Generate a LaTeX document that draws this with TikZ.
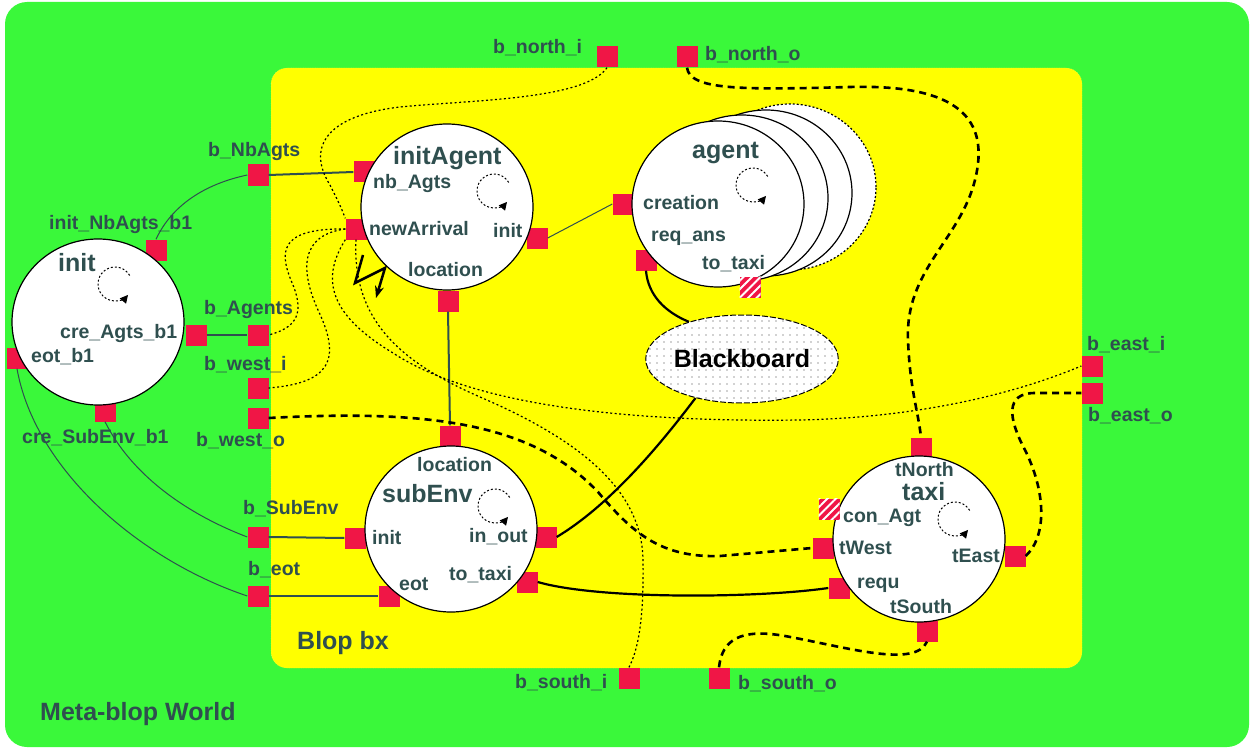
\documentclass[tikz,border=0pt]{standalone}
\usepackage{fontspec}
\setmainfont{Liberation Sans}
\usetikzlibrary{arrows.meta, patterns.meta, shapes.geometric}

\definecolor{world}{RGB}{58,248,58}
\definecolor{blop}{RGB}{255,255,0}
\definecolor{portred}{RGB}{240,22,70}
\definecolor{slate}{RGB}{47,79,79}

\begin{document}
\begin{tikzpicture}[x=1pt, y=-1pt,
  every node/.style={font=\bfseries\fontsize{19.5}{20}\selectfont, text=slate, inner sep=0pt},
  lbl/.style={anchor=west},
  title/.style={anchor=west, font=\bfseries\fontsize{25}{26}\selectfont},
  port/.style={fill=portred, minimum size=21pt},
  hport/.style={port, postaction={pattern={Lines[angle=45, distance=6pt, line width=2pt]}, pattern color=white}},
  actor/.style={ellipse, draw=black, line width=1.2pt, fill=white, minimum width=172pt, minimum height=166pt},
  link/.style={draw=slate, line width=1pt},
  wire/.style={draw=slate, line width=2pt},
  flow/.style={draw=black, line width=2.2pt},
  ddash/.style={draw=black, line width=2.6pt, dash pattern=on 7pt off 5pt},
  ddot/.style={draw=black, line width=1.2pt, dash pattern=on 2pt off 2.5pt},
  selfloop/.style={draw=black, line width=1pt, dash pattern=on 2pt off 2pt, -{Triangle[length=8pt, width=8pt]}}
]
\useasboundingbox (0,0) rectangle (1256,749);

% world and blop
\fill[world, rounded corners=22pt] (5,2) rectangle (1249,747);
\draw[fill=blop, draw={rgb,255:red,210;green,255;blue,140}, dotted, rounded corners=16pt] (271,68) rectangle (1082,668);
\node[title] (world) at (40,714) {Meta-blop World};
\node[title] (blop) at (297,643) {Blop bx};

% ports
\node[port] (bNorthI) at (607,57) {};
\node[port] (bNorthO) at (687,57) {};
\node[port] (bNbAgts) at (258,175) {};
\node[port] (initNb) at (156,250) {};
\node[port] (bAgents) at (258,335) {};
\node[port] (creAgts) at (196,335) {};
\node[port] (eotB1) at (17,358) {};
\node[port] (bWestI) at (258,388) {};
\node[port] (bWestO) at (258,418) {};
\node[port] (creSub) at (105,411) {};
\node[port] (iaNb) at (364,172) {};
\node[port] (iaNew) at (356,229) {};
\node[port] (iaInit) at (537,238) {};
\node[port] (iaLoc) at (448,301) {};
\node[port] (agCreation) at (623,204) {};
\node[port] (agReq) at (646,260) {};
\node[port] (seLoc) at (450,436) {};
\node[port] (seInit) at (355,538) {};
\node[port] (seInOut) at (546,537) {};
\node[port] (seTaxi) at (527,582) {};
\node[port] (seEot) at (389,596) {};
\node[port] (bSubEnv) at (258,537) {};
\node[port] (bEot) at (258,596) {};
\node[port] (txNorth) at (921,448) {};
\node[port] (txWest) at (823,548) {};
\node[port] (txRequ) at (839,588) {};
\node[port] (txEast) at (1015,556) {};
\node[port] (txSouth) at (927,631) {};
\node[port] (bEastI) at (1092,366) {};
\node[port] (bEastO) at (1092,393) {};
\node[port] (bSouthI) at (629,678) {};
\node[port] (bSouthO) at (719,678) {};

% behaviours
\node[actor] (init) at (98,322) {};
\node[actor] (initAgent) at (447,207) {};
\node[actor, dash pattern=on 2pt off 2pt] (agent3) at (790,187) {};
\node[actor] (agent2) at (766,193) {};
\node[actor] (agent1) at (742,198) {};
\node[actor] (agent) at (718,204) {};
\node[actor] (subEnv) at (451,529) {};
\node[actor] (taxi) at (919,539) {};
\node[hport] (agTaxi) at (750,287) {};
\node[hport] (txCon) at (829,509) {};
\node[ellipse, draw=black, line width=1pt, dash pattern=on 6pt off 2pt, fill=white, minimum width=189pt, minimum height=88pt,
  postaction={pattern={Dots[distance=6.5pt, radius=0.7pt]}, pattern color=darkgray},
  text=black, font=\bfseries\fontsize{25}{26}\selectfont] (bb) at (742,359) {Blackboard};

\foreach \cx/\cy in {115/284, 494/191, 753/185, 495/506, 955/519}
  \draw[selfloop] (\cx,\cy) ++(-30:17) arc[start angle=-30, end angle=-320, radius=17];

% labels
\node[lbl] (lNorthI) at (493,48) {b\_north\_i};
\node[lbl] (lNorthO) at (705,55) {b\_north\_o};
\node[lbl] (lNbAgts) at (208,152) {b\_NbAgts};
\node[lbl] (lInitNb) at (49,225) {init\_NbAgts\_b1};
\node[title] (lInit) at (58,263) {init};
\node[lbl] (lAgents) at (204,309) {b\_Agents};
\node[lbl] (lCreAgts) at (60,333) {cre\_Agts\_b1};
\node[lbl] (lEotB1) at (31,357) {eot\_b1};
\node[lbl] (lWestI) at (204,365) {b\_west\_i};
\node[lbl] (lCreSub) at (22,438) {cre\_SubEnv\_b1};
\node[lbl] (lWestO) at (196,441) {b\_west\_o};
\node[title] (lInitAgent) at (393,158) {initAgent};
\node[lbl] (lIaNb) at (373,184) {nb\_Agts};
\node[lbl] (lIaNew) at (369,229) {newArrival};
\node[lbl] (lIaInit) at (493,231) {init};
\node[lbl] (lIaLoc) at (408,270) {location};
\node[title] (lAgent) at (692,153) {agent};
\node[lbl] (lCreation) at (643,203) {creation};
\node[lbl] (lReq) at (651,238) {req\_ans};
\node[lbl] (lAgTaxi) at (702,264) {to\_taxi};
\node[lbl] (lSeLoc) at (417,465) {location};
\node[title] (lSubEnv) at (382,494) {subEnv};
\node[lbl] (lSeInit) at (372,538) {init};
\node[lbl] (lInOut) at (469,537) {in\_out};
\node[lbl] (lSeTaxi) at (449,575) {to\_taxi};
\node[lbl] (lSeEot) at (399,584) {eot};
\node[lbl] (lSubEnvP) at (243,509) {b\_SubEnv};
\node[lbl] (lEot) at (248,570) {b\_eot};
\node[lbl] (lNorth) at (895,470) {tNorth};
\node[title] (lTaxi) at (902,492) {taxi};
\node[lbl] (lCon) at (843,518) {con\_Agt};
\node[lbl] (lWest) at (839,548) {tWest};
\node[lbl] (lEast) at (952,556) {tEast};
\node[lbl] (lRequ) at (857,585) {requ};
\node[lbl] (lSouth) at (890,607) {tSouth};
\node[lbl] (lEastI) at (1087,345) {b\_east\_i};
\node[lbl] (lEastO) at (1088,416) {b\_east\_o};
\node[lbl] (lSouthI) at (515,683) {b\_south\_i};
\node[lbl] (lSouthO) at (738,684) {b\_south\_o};

% bindings
\draw[wire] (bNbAgts.east) -- (iaNb.west);
\draw[link] (initNb.north) .. controls (172,205) and (205,184) .. (bNbAgts.west);
\draw[wire] (creAgts.east) -- (bAgents.west);
\draw[link] (iaInit.east) -- (agCreation.west);
\draw[wire] (iaLoc.south) -- (seLoc.north);
\draw[wire] (bSubEnv.east) -- (seInit.west);
\draw[wire] (bEot.east) -- (seEot.west);
\draw[link] (creSub.south) .. controls (130,472) and (182,512) .. (bSubEnv.west);
\draw[link] (eotB1.south) .. controls (35,470) and (140,560) .. (bEot.west);

\draw[flow] (agReq.south) .. controls (648,295) and (665,312) .. (bb.145);
\draw[flow] (bb.-140) .. controls (660,445) and (610,505) .. (seInOut.east);
\draw[flow] (seTaxi.east) .. controls (600,600) and (760,598) .. (txRequ.west);

\draw[ddash] (bNorthO.south) .. controls (690,90) and (740,90) .. (850,87)
  .. controls (960,84) and (990,120) .. (975,180)
  .. controls (960,240) and (905,270) .. (908,340)
  .. controls (910,390) and (918,410) .. (txNorth.north);
\draw[ddash] (bWestO.east) .. controls (420,410) and (530,420) .. (598,492)
  .. controls (632,532) and (660,558) .. (720,556) -- (txWest.west);
\draw[ddash] (txEast.east) .. controls (1048,535) and (1045,490) .. (1025,450)
  .. controls (1008,418) and (1005,393) .. (1035,393) -- (bEastO.west);
\draw[ddash] (bSouthO.north) .. controls (722,640) and (740,628) .. (785,636)
  .. controls (850,648) and (915,668) .. (txSouth.south);

\draw[ddot] (bNorthI.south) .. controls (585,100) and (470,100) .. (400,107)
  .. controls (330,115) and (305,145) .. (330,185) .. controls (340,205) .. (iaNew.north west);
\draw[ddot] (iaNew.west) .. controls (275,228) and (280,255) .. (293,285)
  .. controls (305,315) and (295,328) .. (bAgents.east);
\draw[ddot] (iaNew.west) .. controls (300,235) and (300,270) .. (318,310)
  .. controls (342,360) and (330,383) .. (bWestI.east);
\draw[ddot] (iaNew.south west) .. controls (320,280) and (330,315) .. (393,353)
  .. controls (480,410) and (650,422) .. (800,420)
  .. controls (900,418) and (1000,400) .. (bEastI.west);
\draw[ddot] (iaNew.south) .. controls (352,320) and (400,362) .. (480,397)
  .. controls (580,440) and (642,490) .. (643,560)
  .. controls (644,620) and (638,650) .. (bSouthI.north);

\draw[line width=2.5pt, -{Stealth[length=12pt, width=9pt]}] (363,255) -- (355,283) -- (385,268) -- (376,298);
\end{tikzpicture}
\end{document}
